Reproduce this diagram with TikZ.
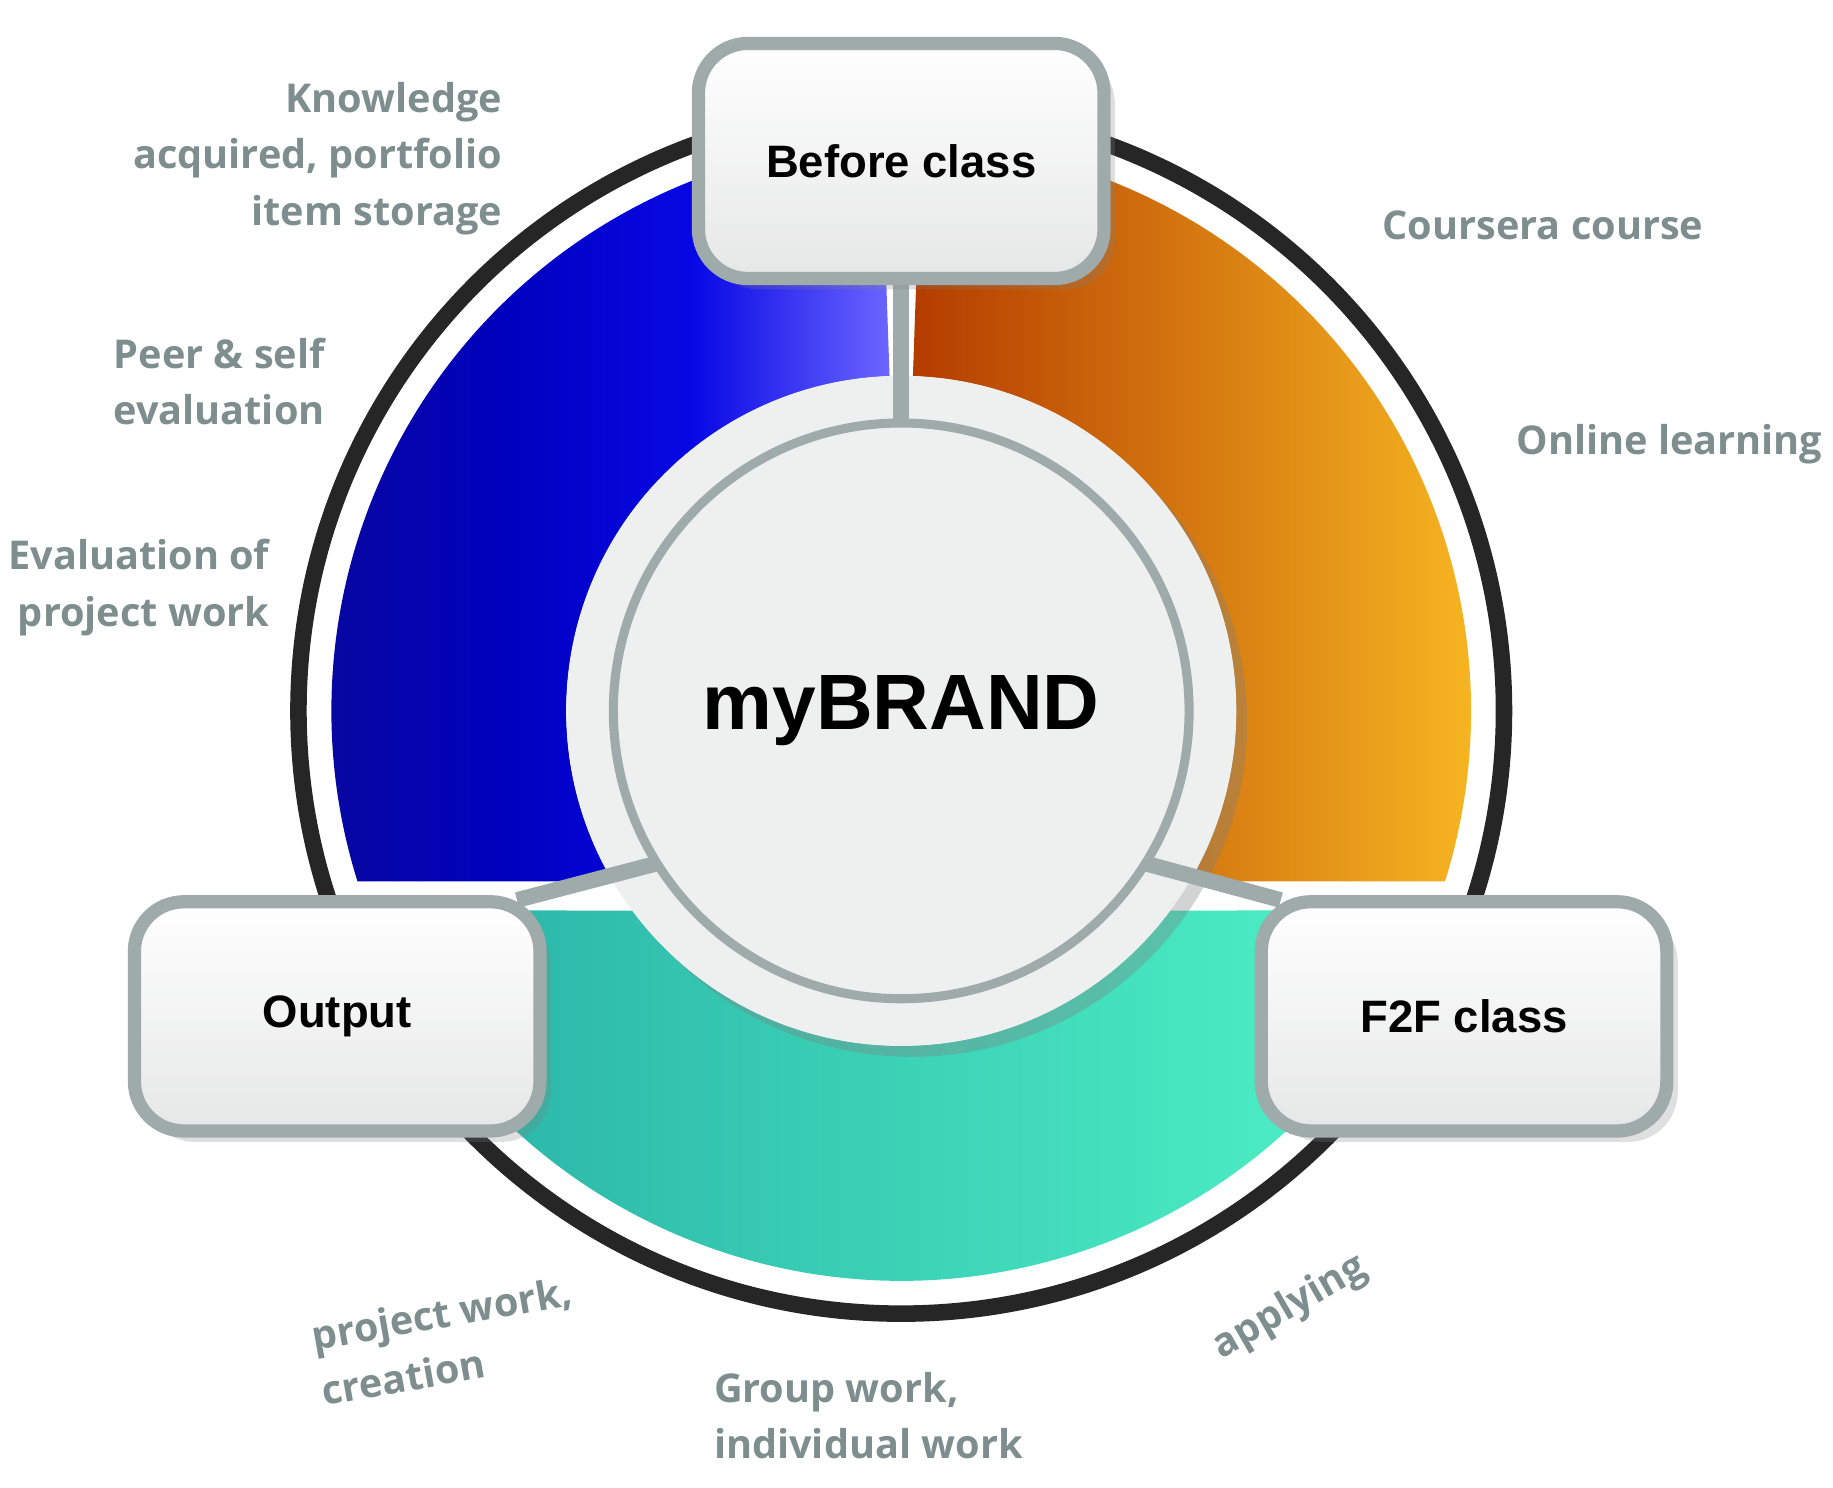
\documentclass[tikz,border=0pt]{standalone}
\usepackage{fontspec}
\setmainfont{Liberation Sans}
\newfontfamily\lab{Open Sans}
\usetikzlibrary{shadows,calc}
\definecolor{labgray}{HTML}{7E8E8E}
\definecolor{ringgray}{HTML}{9FAAAA}
\definecolor{disk}{HTML}{EEF0EF}
\pgfdeclarehorizontalshading{blueband}{100bp}{rgb(0bp)=(0.03,0.03,0.62); rgb(25bp)=(0.03,0.03,0.62); rgb(42bp)=(0.0,0.0,0.75); rgb(58bp)=(0.03,0.03,0.9); rgb(75bp)=(0.42,0.4,1); rgb(100bp)=(0.42,0.4,1)}
\tikzset{
  lbl/.style={text=labgray,font=\lab\bfseries\fontsize{9.6}{13.6}\selectfont,inner sep=0pt},
  boxst/.style={draw=ringgray,line width=3.2pt,rounded corners=12pt,top color=white,bottom color=disk!92!gray,minimum width=3.45cm,minimum height=1.95cm,font=\bfseries\fontsize{11}{14}\selectfont,drop shadow={opacity=0.25}},
  conn/.style={draw=ringgray,line width=3.8pt}
}
\begin{document}
\begin{tikzpicture}[x=0.01cm,y=0.01cm]
\useasboundingbox (0,0) rectangle (1560,1266);
\coordinate (C) at (767,661);
% outer ring
\draw[line width=4pt,black!85] (C) circle (513);
% bands
\shade[shading=blueband]
  ($(C)+(92:485)$) arc (92:197.4:485) -- ($(C)+(210.6:285)$) arc (210.6:92:285) -- cycle;
\shade[left color={rgb,255:red,180;green,60;blue,0},right color={rgb,255:red,250;green,188;blue,35}]
  ($(C)+(-17.4:485)$) arc (-17.4:88:485) -- ($(C)+(88:285)$) arc (88:-30.6:285) -- cycle;
\shade[left color={rgb,255:red,40;green,175;blue,165},right color={rgb,255:red,80;green,245;blue,200}]
  ($(C)+(200.5:485)$) arc (200.5:339.5:485) -- ($(C)+(323.4:285)$) arc (323.4:216.6:285) -- cycle;
% center disk
\node[circle,fill=disk,minimum size=5.7cm,inner sep=0pt,drop shadow={opacity=0.35}] (hub) at (C) {};
\draw[ringgray,line width=2.2pt] (C) circle (245);
\node[font=\bfseries\fontsize{19}{23}\selectfont] (brand) at (C) {myBRAND};
% connectors
\coordinate (ctop) at ($(C)+(90:245)$);
\coordinate (cleft) at ($(C)+(212:245)$);
\coordinate (cright) at ($(C)+(-32:245)$);
\coordinate (bl) at (440,500);
\coordinate (br) at (1090,500);
\draw[conn] (ctop) -- (767,1060);
\draw[conn] (cleft) -- (bl);
\draw[conn] (cright) -- (br);
% boxes
\node[boxst,minimum height=2.0cm] (before) at (767,1129) {Before class};
\node[boxst] (output) at (287,401) {Output};
\node[boxst] (f2f) at (1246,401) {F2F class};
% labels
\node[lbl,align=right,anchor=east] (l1) at (428,1131) {Knowledge\\acquired, portfolio\\item storage};
\node[lbl,align=right,anchor=east] (l2) at (277,941) {Peer \& self\\evaluation};
\node[lbl,align=right,anchor=east] (l3) at (230,766) {Evaluation of\\project work};
\node[lbl,anchor=west] (l4) at (1176,1074) {Coursera course};
\node[lbl,anchor=west] (l5) at (1290,888) {Online learning};
\node[lbl,align=left,rotate=10] (l6) at (380,125) {project work,\\creation};
\node[lbl,rotate=30] (l7) at (1098,153) {applying};
\node[lbl,align=left,anchor=west] (l8) at (607,61) {Group work,\\individual work};
\end{tikzpicture}
\end{document}
